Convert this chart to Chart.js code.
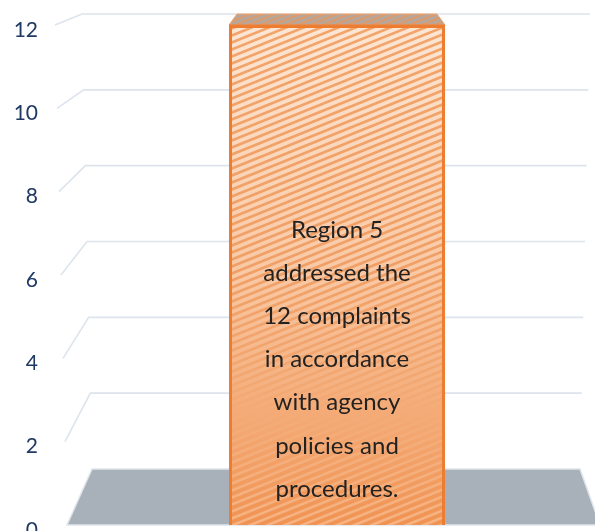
<!DOCTYPE html>
<html>
<head>
<meta charset="utf-8">
<title>Region 5 complaints</title>
<script src="https://cdn.jsdelivr.net/npm/chart.js@4.4.0/dist/chart.umd.min.js"></script>
<style>
  html, body { margin: 0; padding: 0; background: #fff; }
  #wrap { width: 595px; height: 531px; }
</style>
</head>
<body>
<div id="wrap"><canvas id="chart" width="595" height="531"></canvas></div>
<script>
// data
const categories = ['Region 5'];
const complaints = [12];
const yTicks = [0, 2, 4, 6, 8, 10, 12];
const barNote = ['Region 5', 'addressed the', '12 complaints', 'in accordance',
                 'with agency', 'policies and', 'procedures.'];

const W = 595, H = 531;
const lerp = (a, b, t) => a + (b - a) * t;

// fake 3D: where a front-plane pixel lands on the back wall
function depthAt(scale, py) {
  const t = (py - scale.top) / (scale.bottom - scale.top);
  return {
    frontX: lerp(55, 67, t),
    backX: lerp(82, 92, t),
    backY: scale.top - 11 + (py - scale.top) * 0.91,
    backR: lerp(590, 580, t)
  };
}

// hatched fill with a top-to-bottom fade, laid out in canvas coordinates
function makeHatch(ctx, baseStops, stripeStops, top, bottom, gap, lw) {
  const c = document.createElement('canvas');
  c.width = W; c.height = H;
  const g = c.getContext('2d');
  const bg = g.createLinearGradient(0, top, 0, bottom);
  baseStops.forEach(s => bg.addColorStop(s[0], s[1]));
  g.fillStyle = bg;
  g.fillRect(0, 0, W, H);
  const fg = g.createLinearGradient(0, top, 0, bottom);
  stripeStops.forEach(s => fg.addColorStop(s[0], s[1]));
  g.strokeStyle = fg;
  g.lineWidth = lw;
  for (let y0 = -300; y0 < H + 300; y0 += gap) {
    g.beginPath();
    g.moveTo(0, y0 + 240);
    g.lineTo(W, y0);
    g.stroke();
  }
  return ctx.createPattern(c, 'no-repeat');
}

const ctx = document.getElementById('chart').getContext('2d');
const frontHatch = makeHatch(ctx,
  [[0, '#fde6d4'], [0.5, '#f9c8a4'], [1, '#f09352']],
  [[0, '#f2a46a'], [0.5, '#f0a066'], [1, '#f6b383']], 25, 525, 7, 2.6);
const topHatch = makeHatch(ctx,
  [[0, '#b5a79c'], [1, '#b5a79c']],
  [[0, '#dc9a6c'], [1, '#dc9a6c']], 0, 40, 5, 2);

const depthPlugin = {
  id: 'depth',
  beforeDatasetsDraw(chart) {
    const y = chart.scales.y;
    const c = chart.ctx;
    c.save();
    // walls: slanted side line + back line for each tick above zero
    c.strokeStyle = '#dde4ec';
    c.lineWidth = 1.6;
    y.ticks.forEach(tk => {
      if (tk.value === 0) return;
      const py = y.getPixelForValue(tk.value);
      const d = depthAt(y, py);
      c.beginPath();
      c.moveTo(d.frontX, py);
      c.lineTo(d.backX, d.backY);
      c.lineTo(d.backR, d.backY);
      c.stroke();
    });
    // floor at zero
    const p0 = y.getPixelForValue(0);
    const f = depthAt(y, p0);
    c.beginPath();
    c.moveTo(f.frontX, p0);
    c.lineTo(f.backX, f.backY);
    c.lineTo(f.backR, f.backY);
    c.lineTo(f.backR + 20, p0);
    c.closePath();
    c.fillStyle = '#a8b1ba';
    c.fill();
    c.strokeStyle = '#dfe5eb';
    c.lineWidth = 1.5;
    c.stroke();
    c.restore();
  },
  afterDatasetsDraw(chart) {
    const c = chart.ctx;
    const bar = chart.getDatasetMeta(0).data[0];
    const p = bar.getProps(['x', 'y', 'width', 'base'], true);
    const l = p.x - p.width / 2, r = p.x + p.width / 2;
    c.save();
    // top face of the box
    c.beginPath();
    c.moveTo(l, p.y);
    c.lineTo(l + 8, p.y - 11);
    c.lineTo(r - 8, p.y - 11);
    c.lineTo(r, p.y);
    c.closePath();
    c.fillStyle = topHatch;
    c.fill();
    c.strokeStyle = '#efa470';
    c.lineWidth = 1;
    c.stroke();
    c.beginPath();
    c.moveTo(l, p.y + 1);
    c.lineTo(r, p.y + 1);
    c.strokeStyle = '#ed7d31';
    c.lineWidth = 3;
    c.stroke();
    // note written inside the bar
    c.fillStyle = '#222222';
    c.font = '24px Lato';
    c.textAlign = 'center';
    c.textBaseline = 'middle';
    const lh = 43.2;
    const last = p.base - 36;
    barNote.forEach((line, i) => {
      c.fillText(line, p.x, last - (barNote.length - 1 - i) * lh);
    });
    c.restore();
  }
};

new Chart(ctx, {
  type: 'bar',
  data: {
    labels: categories,
    datasets: [{
      data: complaints,
      backgroundColor: frontHatch,
      borderColor: '#ed7d31',
      borderWidth: 3,
      barPercentage: 216 / 516,
      categoryPercentage: 1
    }]
  },
  options: {
    responsive: false,
    animation: false,
    layout: { padding: { top: 25, bottom: 6, left: 0, right: 0 } },
    plugins: { legend: { display: false }, tooltip: { enabled: false } },
    scales: {
      x: { display: false },
      y: {
        min: 0,
        max: 12,
        afterBuildTicks(s) { s.ticks = yTicks.map(v => ({ value: v })); },
        afterFit(s) { s.width = 79; s.paddingTop = 0; s.paddingBottom = 0; },
        grid: { display: false, drawTicks: false },
        border: { display: false },
        ticks: {
          padding: 41,
          labelOffset: 5,
          color: '#1f3864',
          font: { family: 'Lato', size: 21 }
        }
      }
    }
  },
  plugins: [depthPlugin]
});
</script>
</body>
</html>
